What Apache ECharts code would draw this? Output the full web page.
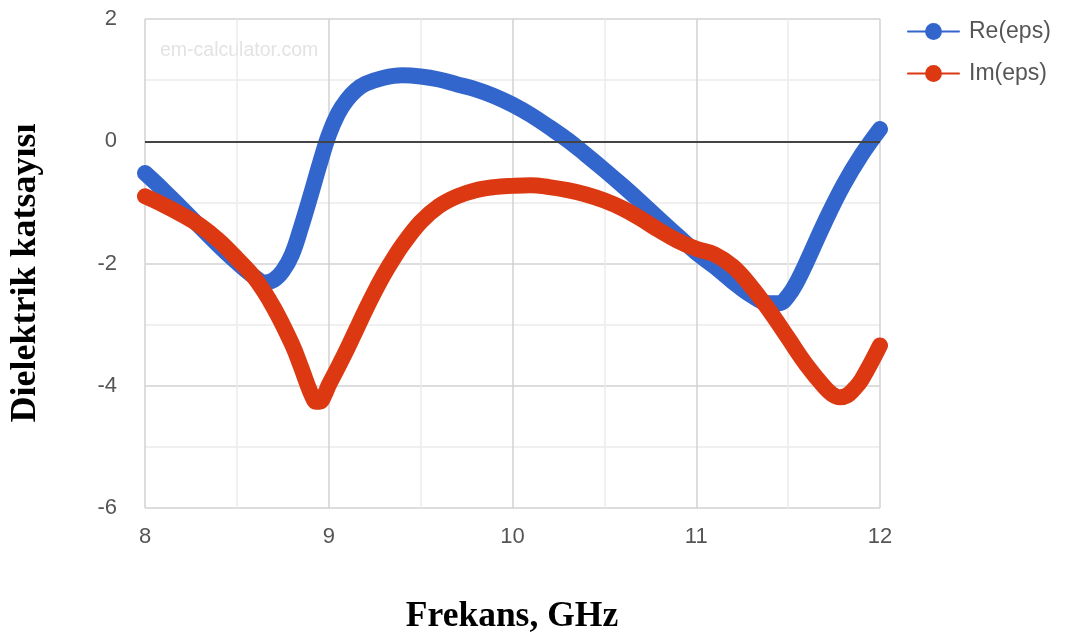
<!DOCTYPE html>
<html>
<head>
<meta charset="utf-8">
<script src="https://cdn.jsdelivr.net/npm/echarts@6/dist/echarts.min.js"></script>
<style>
  html, body { margin: 0; padding: 0; background: #fff; }
  #chart { width: 1067px; height: 641px; }
</style>
</head>
<body>
<div id="chart"></div>
<script>
// Real part of the permittivity vs frequency (GHz)
const reFreq = [8.0, 8.1, 8.2, 8.3, 8.4, 8.5, 8.6, 8.65, 8.7, 8.75, 8.8, 8.85, 8.9, 8.95,
  9.0, 9.05, 9.1, 9.15, 9.2, 9.3, 9.4, 9.5, 9.6, 9.7, 9.8, 9.9,
  10.0, 10.1, 10.2, 10.3, 10.4, 10.5, 10.6, 10.7, 10.8, 10.9,
  11.0, 11.1, 11.2, 11.3, 11.4, 11.45, 11.5, 11.55, 11.6, 11.7, 11.8, 11.9, 12.0];
const reVals = [-0.52, -0.80, -1.10, -1.40, -1.70, -1.98, -2.23, -2.31, -2.27, -2.12, -1.85, -1.40, -0.90, -0.38,
  0.10, 0.45, 0.68, 0.84, 0.94, 1.04, 1.08, 1.06, 1.01, 0.93, 0.85, 0.74,
  0.60, 0.43, 0.23, 0.02, -0.22, -0.47, -0.73, -1.00, -1.28, -1.55,
  -1.82, -2.05, -2.30, -2.52, -2.65, -2.65, -2.53, -2.29, -1.98, -1.32, -0.72, -0.22, 0.20];

// Imaginary part of the permittivity vs frequency (GHz)
const imFreq = [8.0, 8.1, 8.2, 8.3, 8.4, 8.5, 8.6, 8.7, 8.8, 8.85, 8.88, 8.91, 8.93, 8.95, 8.98,
  9.0, 9.05, 9.1, 9.15, 9.2, 9.25, 9.3, 9.35, 9.4, 9.5, 9.6, 9.7, 9.8, 9.9,
  10.0, 10.1, 10.2, 10.3, 10.4, 10.5, 10.6, 10.7, 10.8, 10.9,
  11.0, 11.1, 11.2, 11.3, 11.4, 11.5, 11.6, 11.7, 11.74, 11.78, 11.82, 11.86, 11.9, 12.0];
const imVals = [-0.90, -1.04, -1.20, -1.38, -1.62, -1.92, -2.25, -2.72, -3.32, -3.70, -3.95, -4.17, -4.26, -4.26, -4.13,
  -3.99, -3.70, -3.40, -3.08, -2.76, -2.46, -2.18, -1.93, -1.70, -1.32, -1.06, -0.90, -0.80, -0.75,
  -0.73, -0.72, -0.75, -0.80, -0.87, -0.97, -1.10, -1.27, -1.46, -1.63,
  -1.76, -1.85, -2.05, -2.38, -2.78, -3.22, -3.66, -4.03, -4.14, -4.19, -4.16, -4.05, -3.90, -3.34];

const seriesNames = ['Re(eps)', 'Im(eps)'];
const seriesColors = ['#3366cc', '#dc3912'];
const xTitle = 'Frekans, GHz';
const yTitle = 'Dielektrik katsayısı';
const watermark = 'em-calculator.com';

const pairs = (xs, ys) => xs.map((x, i) => [x, ys[i]]);

const sans = 'Liberation Sans, Arial, sans-serif';
const serif = 'Liberation Serif, Times New Roman, serif';
const labelFont = { color: '#555', fontSize: 22, fontFamily: sans };
const majorGrid = { show: true, lineStyle: { color: '#d2d2d2', width: 1.5 } };
const minorGrid = { show: true, lineStyle: { color: '#ebebeb', width: 1.5 } };

function curve(name, data, color) {
  return {
    name: name,
    type: 'line',
    data: data,
    smooth: 0.4,
    symbol: 'circle',
    symbolSize: 16,
    showSymbol: false,
    color: color,
    lineStyle: { width: 16, color: color, cap: 'round', join: 'round' },
    z: 3
  };
}

const chart = echarts.init(document.getElementById('chart'), null, { renderer: 'canvas' });
chart.setOption({
  animation: false,
  backgroundColor: '#fff',
  grid: { left: 145, right: 187, top: 19, bottom: 133, containLabel: false },
  xAxis: {
    type: 'value', min: 8, max: 12, interval: 1,
    axisLine: { show: false }, axisTick: { show: false },
    axisLabel: Object.assign({ margin: 18 }, labelFont),
    splitLine: majorGrid,
    minorTick: { show: false, splitNumber: 2 },
    minorSplitLine: minorGrid
  },
  yAxis: {
    type: 'value', min: -6, max: 2, interval: 2,
    axisLine: { show: false }, axisTick: { show: false },
    axisLabel: Object.assign({ margin: 28 }, labelFont),
    splitLine: majorGrid,
    minorTick: { show: false, splitNumber: 2 },
    minorSplitLine: minorGrid
  },
  legend: {
    data: seriesNames,
    orient: 'vertical',
    left: 907, top: 20, padding: 0,
    itemWidth: 51, itemHeight: 21, itemGap: 19,
    lineStyle: { width: 2 },
    textStyle: { color: '#555', fontSize: 23, fontFamily: sans, padding: [0, 0, 0, 5] }
  },
  graphic: [
    { type: 'text', left: 160, top: 41, z: 0, silent: true,
      style: { text: watermark, fill: '#e3e3e3', fontSize: 19.5, fontFamily: sans } },
    { type: 'text', x: 512, y: 617, z: 10,
      style: { text: xTitle, fill: '#000', fontSize: 35.5, fontWeight: 'bold', fontFamily: serif, align: 'center', verticalAlign: 'middle' } },
    { type: 'text', x: 26, y: 273, rotation: Math.PI / 2, z: 10,
      style: { text: yTitle, fill: '#000', fontSize: 36, fontWeight: 'bold', fontFamily: serif, align: 'center', verticalAlign: 'middle' } }
  ],
  series: [
    {
      name: 'zero', type: 'line', data: [], z: 1, silent: true,
      markLine: {
        silent: true, symbol: 'none', label: { show: false },
        lineStyle: { color: '#444', width: 2, type: 'solid' },
        data: [{ yAxis: 0 }]
      }
    },
    curve(seriesNames[0], pairs(reFreq, reVals), seriesColors[0]),
    curve(seriesNames[1], pairs(imFreq, imVals), seriesColors[1])
  ]
});
</script>
</body>
</html>
